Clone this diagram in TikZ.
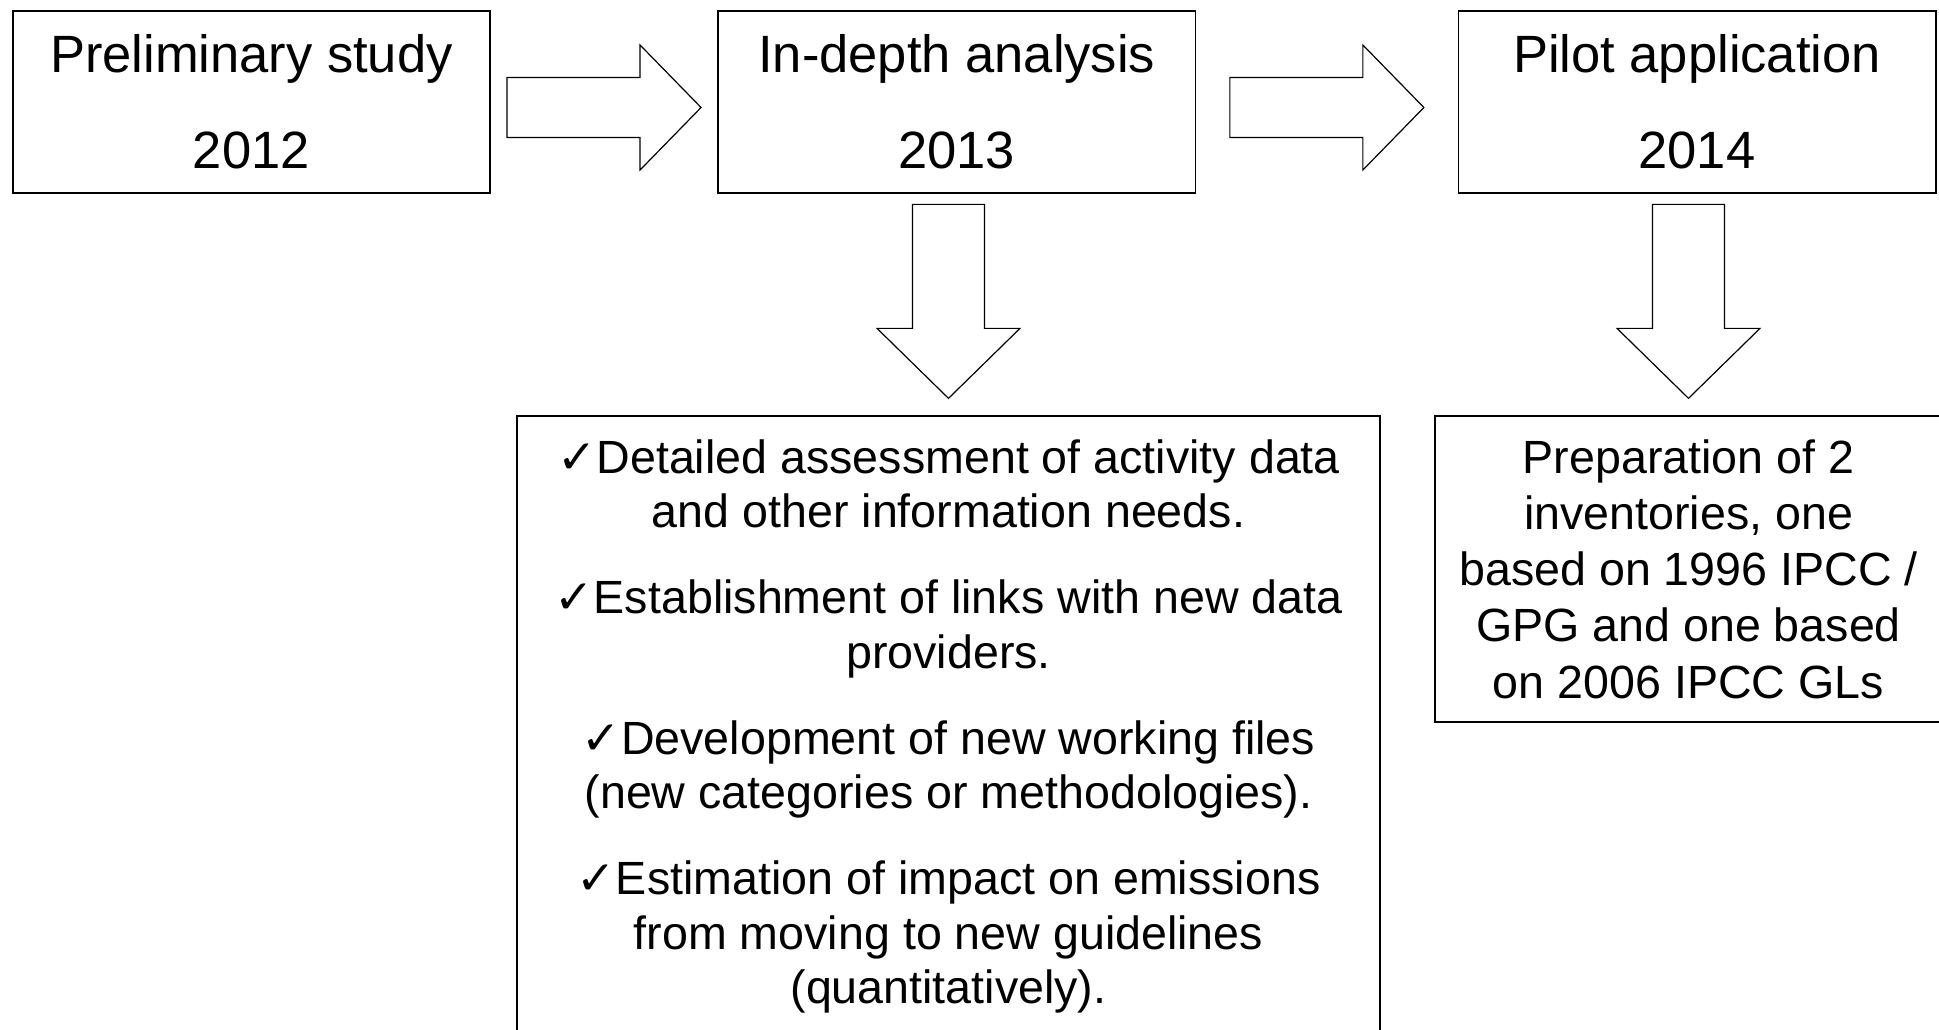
\documentclass[tikz,border=0pt]{standalone}
\usepackage{fontspec}
\setmainfont{Liberation Sans}
\newfontfamily\checkfont{DejaVu Sans}
\usetikzlibrary{calc}

\newcommand{\tick}{{\checkfont\bfseries\fontsize{23.5pt}{27.35pt}\selectfont ✓}}

% block arrow between two stages, side by side
\newcommand{\rightblock}[2]{%
	\draw[blockarrow] ($(#1.east)!0.5!(#2.west)+(-97,-24.2)$)
		-- ++(133,0) -- ++(0,-32.5) -- ++(61,62.5) -- ++(-61,62.5)
		-- ++(0,-32.5) -- ++(-133,0) -- cycle;}

% block arrow from a stage down to its result
\newcommand{\downblock}[2]{%
	\draw[blockarrow] ($(#2.north |- #1.south)!0.5!(#2.north)+(-36,-100)$)
		-- ++(0,124) -- ++(-35.5,0) -- ++(71.5,70) -- ++(71.5,-70)
		-- ++(-35.5,0) -- ++(0,-124) -- cycle;}

\tikzset{
	stage/.style = {draw, line width = 0.85pt, inner sep = 0pt, outer sep = 0pt,
		minimum width = 238.65pt, minimum height = 91pt, align = center,
		font = \fontsize{26.25pt}{47.8pt}\selectfont},
	result/.style = {draw, line width = 0.85pt, inner sep = 0pt, outer sep = 0pt,
		align = center},
	blockarrow/.style = {draw, line width = 0.6pt, fill = white, line join = miter},
}

\begin{document}
\begin{tikzpicture}[x = 0.5pt, y = -0.5pt]
			\useasboundingbox (0,0) rectangle (1939,1029);

			\node[stage] (prelim) at (251.35,101.7) {Preliminary study\\2012};
			\node[stage] (depth) at (956.75,101.7) {In-depth analysis\\2013};
			\node[stage] (pilot) at (1697,101.7) {Pilot application\\2014};

			\node[result, minimum width = 431.5pt, minimum height = 310.5pt,
				font = \fontsize{23.3pt}{27.35pt}\selectfont] (tasks) at (948.5,726.5)
				{\tick Detailed assessment of activity data\\
				and other information needs.\\[15.5pt]
				\tick Establishment of links with new data\\
				providers.\\[15.5pt]
				\tick Development of new working files\\
				(new categories or methodologies).\\[15.5pt]
				\tick Estimation of impact on emissions\\
				from moving to new guidelines\\
				(quantitatively).};

			\node[result, minimum width = 253.5pt, minimum height = 153pt,
				font = \fontsize{23.3pt}{28.15pt}\selectfont] (inventories) at (1688.5,569)
				{Preparation of 2\\
				inventories, one\\
				based on 1996 IPCC /\\
				GPG and one based\\
				on 2006 IPCC GLs};

			\rightblock{prelim}{depth}
			\rightblock{depth}{pilot}
			\downblock{depth}{tasks}
			\downblock{pilot}{inventories}
		\end{tikzpicture}
\end{document}
